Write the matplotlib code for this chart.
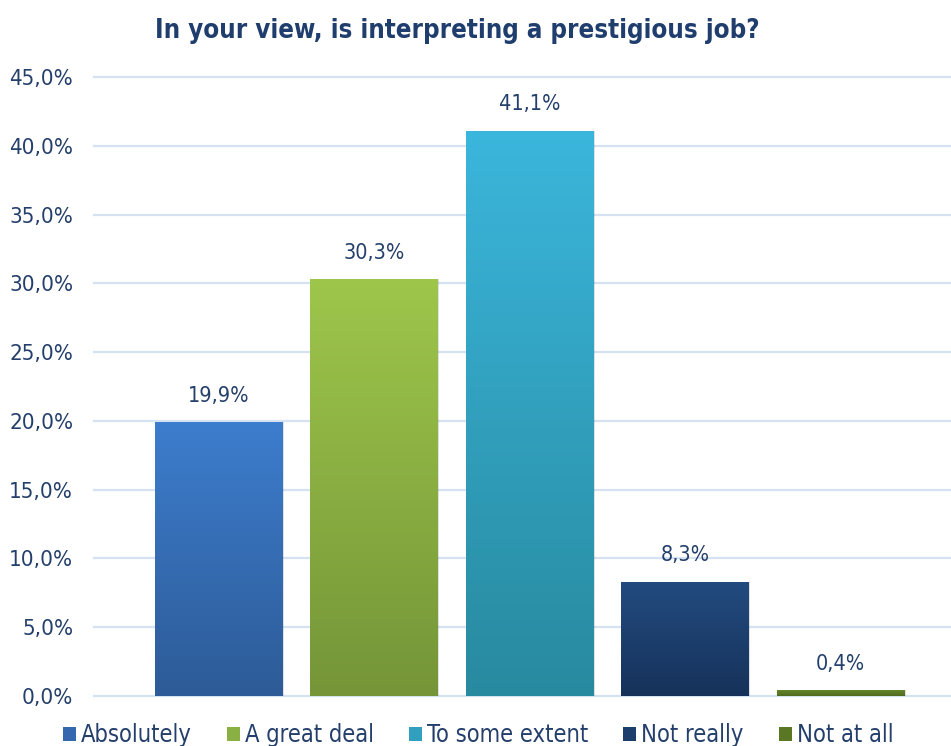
import numpy as np
import matplotlib
matplotlib.use("Agg")
import matplotlib.pyplot as plt
from matplotlib.patches import Patch
from matplotlib.colors import LinearSegmentedColormap

categories = ["Absolutely", "A great deal", "To some extent", "Not really", "Not at all"]
values = [19.9, 30.3, 41.1, 8.3, 0.4]
top_colors = ["#3D7DCD", "#9EC64B", "#3BB6DC", "#234B80", "#65862A"]
bottom_colors = ["#2D5B97", "#759538", "#288A9F", "#16325A", "#4F6B1E"]
yticks = np.arange(0, 46, 5)

text_color = "#243F6B"
grid_color = "#D5E2F2"

plt.rcParams["font.family"] = ["DejaVu Sans"]
plt.rcParams["font.stretch"] = "condensed"

fig = plt.figure(figsize=(9.51, 7.46), dpi=100)
ax = fig.add_axes([94 / 951, 50 / 746, 857 / 951, 619 / 746])

x = np.arange(len(categories))
width = 0.817
ax.set_xlim(-0.80, 4.71)
ax.set_ylim(0, 45)

for yt in yticks:
    ax.axhline(yt, color=grid_color, lw=1.6, zorder=0, clip_on=False)

for i, (v, ct, cb) in enumerate(zip(values, top_colors, bottom_colors)):
    # soft shadow
    sh = plt.Rectangle((i - width / 2 + 0.012, 0), width, v, color="#000000",
                       alpha=0.12, lw=0, zorder=1)
    ax.add_patch(sh)
    rect = plt.Rectangle((i - width / 2, 0), width, v, facecolor="none",
                         edgecolor="none", zorder=2)
    ax.add_patch(rect)
    cmap = LinearSegmentedColormap.from_list(f"g{i}", [cb, ct])
    grad = np.linspace(0, 1, 256).reshape(-1, 1)
    im = ax.imshow(grad, cmap=cmap, origin="lower", aspect="auto",
                   extent=(i - width / 2, i + width / 2, 0, v), zorder=2)
    im.set_clip_path(rect)
    ax.text(i, v + 1.2, f"{v:.1f}%".replace(".", ","), ha="center", va="bottom",
            fontsize=15.5, color=text_color)

ax.set_yticks(yticks)
ax.set_yticklabels([f"{t:.1f}%".replace(".", ",") for t in yticks],
                   fontsize=16, color=text_color)
ax.tick_params(axis="y", length=0, pad=15)
ax.set_xticks([])
for s in ax.spines.values():
    s.set_visible(False)

fig.text(457 / 951, 1 - 31 / 746, "In your view, is interpreting a prestigious job?",
         ha="center", va="center", fontsize=18.5, fontweight="bold", color="#1F3E6E")

handles = [Patch(facecolor=c, edgecolor="none") for c in
           ["#3469B0", "#8AAF42", "#31A0BE", "#1C3E6C", "#5A7824"]]
fig.legend(handles, categories, loc="center", bbox_to_anchor=(478 / 951, 1 - 735 / 746),
           ncol=5, frameon=False, fontsize=17, handlelength=0.55, handleheight=0.55,
           handletextpad=0.2, columnspacing=1.5, labelcolor=text_color,
           borderaxespad=0)

fig.savefig("out.png", dpi=100)
